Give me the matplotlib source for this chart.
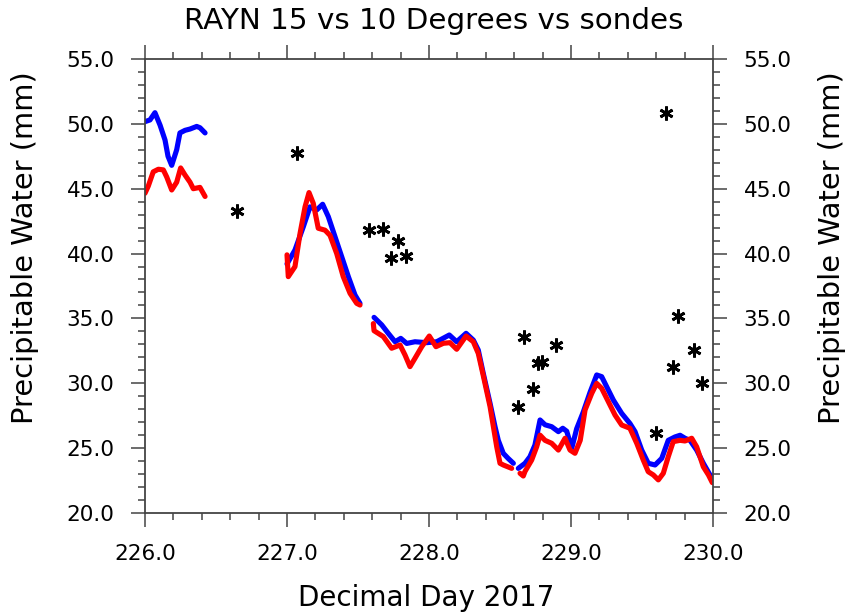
import numpy as np
import matplotlib
matplotlib.use("Agg")
import matplotlib.pyplot as plt
from matplotlib.ticker import MultipleLocator, FormatStrFormatter

plt.rcParams['font.family'] = 'DejaVu Sans'

nan = np.nan

# 15 degree retrieval (blue), gaps marked with nan
day15 = [226.000, 226.035, 226.070, 226.106, 226.141, 226.162, 226.188, 226.223, 226.246,
         226.282, 226.317, 226.364, 226.387, 226.423, nan,
         227.000, 227.056, 227.115, 227.162, 227.209, 227.251, 227.291, 227.338, 227.385,
         227.432, 227.479, 227.514, nan,
         227.613, 227.667, 227.713, 227.761, 227.801, 227.843, 227.901, 227.984, 228.054,
         228.143, 228.195, 228.261, 228.312, 228.347, 228.382, 228.430, 228.465, 228.488,
         228.523, 228.558, 228.594, nan,
         228.629, 228.676, 228.711, 228.746, 228.782, 228.817, 228.864, 228.911, 228.942,
         228.970, 229.005, 229.040, 229.087, 229.134, 229.181, 229.216, 229.251, 229.298,
         229.357, 229.415, 229.451, 229.498, 229.544, 229.592, 229.639, 229.685, 229.732,
         229.768, 229.803, 229.838, 229.885, 229.932, 229.979, 230.000]
pw15 = [50.17, 50.30, 50.86, 49.90, 48.75, 47.50, 46.80, 48.00, 49.30,
        49.50, 49.60, 49.80, 49.70, 49.30, nan,
        39.20, 40.27, 42.07, 43.60, 43.36, 43.80, 42.84, 41.30, 39.76,
        38.22, 36.80, 36.16, nan,
        35.08, 34.50, 33.85, 33.20, 33.46, 33.07, 33.20, 33.13, 33.20,
        33.72, 33.20, 33.85, 33.33, 32.56, 30.77, 28.45, 26.65, 25.60,
        24.60, 24.20, 23.83, nan,
        23.44, 23.83, 24.34, 25.24, 27.17, 26.80, 26.65, 26.27, 26.53,
        26.30, 24.98, 26.50, 27.80, 29.30, 30.64, 30.51, 29.74, 28.71,
        27.68, 26.90, 26.27, 24.85, 23.83, 23.70, 24.21, 25.60, 25.86,
        25.99, 25.76, 25.60, 24.85, 23.83, 22.93, 22.80]

# 10 degree retrieval (red)
day10 = [226.000, 226.023, 226.058, 226.094, 226.129, 226.153, 226.188, 226.223, 226.251,
         226.282, 226.317, 226.340, 226.387, 226.423, nan,
         227.000, 227.009, 227.056, 227.092, 227.127, 227.155, 227.185, 227.220, 227.268,
         227.303, 227.350, 227.396, 227.444, 227.491, 227.514, nan,
         227.608, 227.613, 227.678, 227.737, 227.796, 227.831, 227.866, 227.901, 227.949,
         228.002, 228.049, 228.101, 228.148, 228.195, 228.261, 228.312, 228.347, 228.382,
         228.430, 228.477, 228.500, 228.523, 228.582, nan,
         228.641, 228.664, 228.676, 228.723, 228.758, 228.782, 228.817, 228.864, 228.911,
         228.958, 228.993, 229.028, 229.065, 229.099, 229.146, 229.181, 229.216, 229.263,
         229.310, 229.357, 229.415, 229.463, 229.509, 229.544, 229.580, 229.615, 229.650,
         229.685, 229.720, 229.768, 229.803, 229.850, 229.885, 229.932, 229.968, 229.995]
pw10 = [44.65, 45.20, 46.30, 46.50, 46.45, 45.90, 44.90, 45.50, 46.60,
        46.05, 45.50, 45.00, 45.10, 44.40, nan,
        39.90, 38.22, 38.99, 41.56, 43.60, 44.70, 43.87, 41.95, 41.80,
        41.40, 40.00, 38.22, 36.93, 36.16, 36.03, nan,
        34.60, 34.05, 33.60, 32.70, 32.95, 32.18, 31.28, 31.92, 32.82,
        33.64, 32.82, 33.08, 33.13, 32.62, 33.64, 33.20, 32.30, 30.60,
        28.20, 25.10, 23.83, 23.70, 23.44, nan,
        23.06, 22.85, 23.20, 24.08, 25.10, 26.00, 25.60, 25.37, 24.85,
        25.76, 24.85, 24.60, 25.60, 27.94, 29.22, 29.99, 29.61, 28.58,
        27.55, 26.78, 26.53, 25.37, 24.08, 23.18, 22.93, 22.55, 23.06,
        24.34, 25.50, 25.60, 25.55, 25.76, 25.10, 23.56, 22.93, 22.34]

# radiosonde launches
sonde_day = [226.646, 227.068, 227.580, 227.678, 227.780, 227.730, 227.838,
             228.629, 228.669, 228.730, 228.770, 228.794, 228.894,
             229.599, 229.669, 229.716, 229.756, 229.866, 229.920]
sonde_pw = [43.30, 47.73, 41.82, 41.87, 41.00, 39.68, 39.81,
            28.19, 33.54, 29.53, 31.54, 31.66, 32.95,
            26.14, 50.86, 31.28, 35.22, 32.60, 29.99]

fig = plt.figure(figsize=(8.48, 6.15), dpi=100)
ax = fig.add_axes([0.171, 0.1659, 0.6698, 0.7382])

ax.plot(day15, pw15, color='#0000ff', lw=3.7, solid_capstyle='round', solid_joinstyle='round')
ax.plot(day10, pw10, color='#ff0000', lw=3.7, solid_capstyle='round', solid_joinstyle='round')
ax.plot(sonde_day, sonde_pw, ls='none', marker=(6, 2, 0), ms=10, mew=2.0, color='black')

ax.set_xlim(226.0, 230.0)
ax.set_ylim(20.0, 55.0)
ax.xaxis.set_major_locator(MultipleLocator(1.0))
ax.xaxis.set_minor_locator(MultipleLocator(0.2))
ax.yaxis.set_major_locator(MultipleLocator(5.0))
ax.yaxis.set_minor_locator(MultipleLocator(1.0))
ax.xaxis.set_major_formatter(FormatStrFormatter('%.1f'))
ax.yaxis.set_major_formatter(FormatStrFormatter('%.1f'))

axcol = '#444444'
for s in ax.spines.values():
    s.set_color(axcol)
    s.set_linewidth(1.3)
ax.tick_params(which='both', direction='out', colors=axcol, labelcolor='black',
               top=True, right=True, labelright=True, width=1.1)
ax.tick_params(which='major', length=10, labelsize=15.5, pad=12)
ax.tick_params(which='minor', length=5)

# axis titles placed in figure coordinates
fig.text(0.502, 0.028, 'Decimal Day 2017', ha='center', va='center', fontsize=20)
fig.text(0.030, 0.598, 'Precipitable Water (mm)', ha='center', va='center',
         rotation=90, fontsize=20.8)
fig.text(0.981, 0.598, 'Precipitable Water (mm)', ha='center', va='center',
         rotation=90, fontsize=20.8)
fig.text(0.511, 0.966, 'RAYN 15 vs 10 Degrees vs sondes', ha='center', va='center', fontsize=21.2)

fig.savefig('out.png', dpi=100)
